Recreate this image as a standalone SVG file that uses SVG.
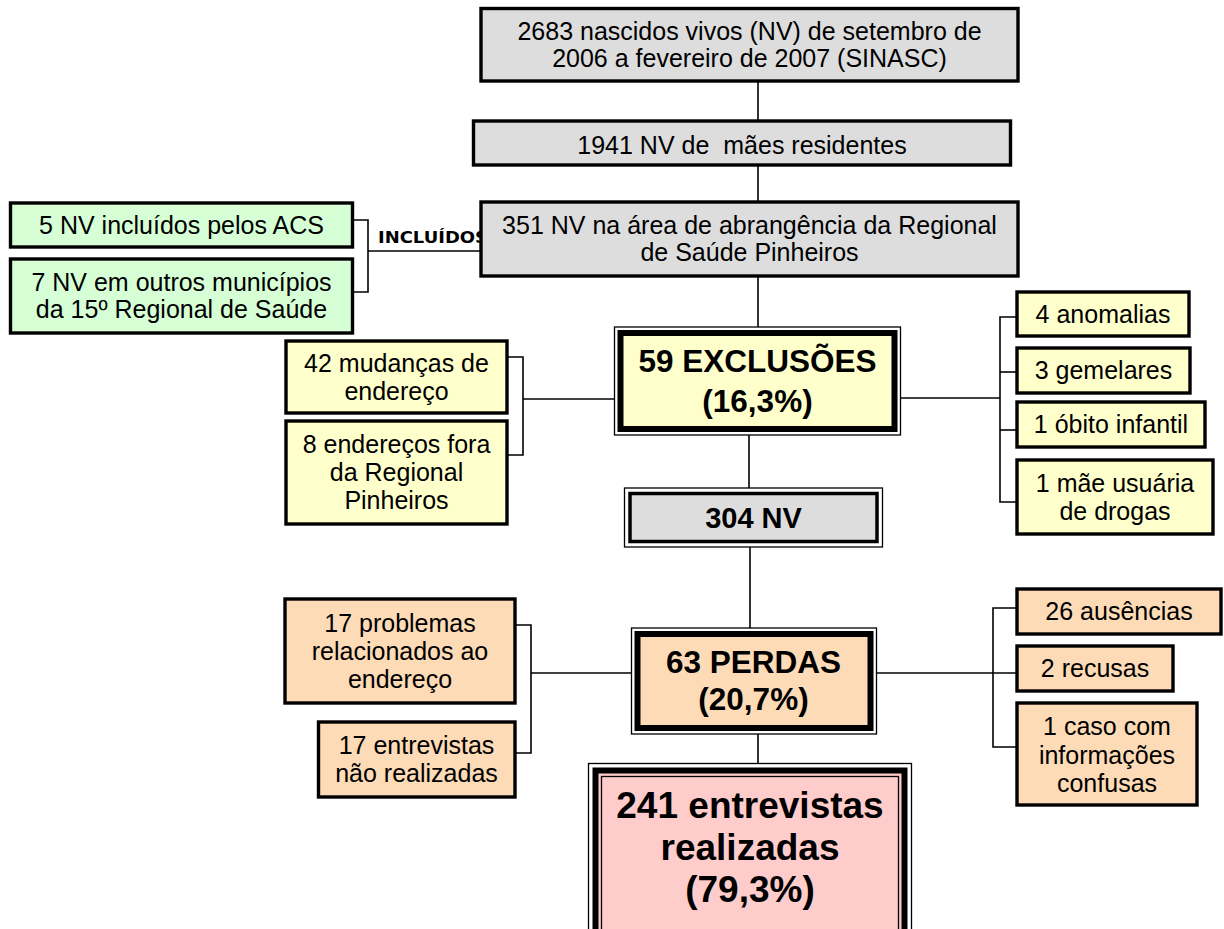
<svg xmlns="http://www.w3.org/2000/svg" width="1224" height="929" viewBox="0 0 1224 929">
<style>
text{font-family:"Liberation Sans",Arial,sans-serif;font-size:25px;fill:#000;text-anchor:middle;white-space:pre}
text.b{font-weight:bold;font-size:31.5px}
text.s{font-size:29px}
text.l{font-size:37px}
.box{stroke:#000;stroke-width:3.4}
.gray{fill:#DDDDDD}
.green{fill:#D6FFD6}
.yel{fill:#FFFFCC}
.peach{fill:#FDDBB6}
.pink{fill:#FFCCCC}
.thin{fill:#fff;stroke:#000;stroke-width:1.3}
.thick{stroke:#000;stroke-width:6}
.c line,.c polyline{stroke:#000;stroke-width:1.6;fill:none}
text.inc{font-family:"DejaVu Sans",sans-serif;font-weight:bold;font-size:15px;text-anchor:start}
</style>
<rect width="1224" height="929" fill="#fff"/>
<g class="c" id="connectors">
<line x1="758" y1="81" x2="758" y2="121"/>
<line x1="758" y1="165" x2="758" y2="202"/>
<line x1="758" y1="276" x2="758" y2="327"/>
<line x1="749" y1="435" x2="749" y2="488"/>
<line x1="750" y1="547" x2="750" y2="628"/>
<line x1="758" y1="734" x2="758" y2="763"/>
<polyline points="352,220 368,220 368,292 352,292"/>
<line x1="368" y1="251" x2="481" y2="251"/>
<polyline points="507,357 523,357 523,455 507,455"/>
<line x1="523" y1="399" x2="614" y2="399"/>
<polyline points="1017,317 1000,317 1000,502 1017,502"/>
<line x1="1000" y1="372" x2="1017" y2="372"/>
<line x1="1000" y1="430" x2="1017" y2="430"/>
<line x1="901" y1="398" x2="1000" y2="398"/>
<polyline points="515,625 531,625 531,753 515,753"/>
<line x1="531" y1="673" x2="631" y2="673"/>
<polyline points="1017,608 993,608 993,747 1017,747"/>
<line x1="877" y1="673" x2="1017" y2="673"/>
</g>
<text class="inc" x="378" y="243" textLength="110" lengthAdjust="spacingAndGlyphs">INCLUÍDOS</text>
<g id="n2683">
<rect class="box gray" x="481" y="8.5" width="537" height="72.5"/>
<text x="749.5" y="40">2683 nascidos vivos (NV) de setembro de</text>
<text x="749.5" y="67">2006 a fevereiro de 2007 (SINASC)</text>
</g>
<g id="n1941">
<rect class="box gray" x="473.5" y="121" width="537" height="44"/>
<text x="742" y="154">1941 NV de  mães residentes</text>
</g>
<g id="n351">
<rect class="box gray" x="481" y="202" width="537" height="74"/>
<text x="749.5" y="234">351 NV na área de abrangência da Regional</text>
<text x="749.5" y="261">de Saúde Pinheiros</text>
</g>
<g id="inc1">
<rect class="box green" x="10.5" y="203" width="342" height="44"/>
<text x="181.5" y="234">5 NV incluídos pelos ACS</text>
</g>
<g id="inc2">
<rect class="box green" x="10.5" y="259" width="342" height="74"/>
<text x="181.5" y="291">7 NV em outros municípios</text>
<text x="181.5" y="318">da 15º Regional de Saúde</text>
</g>
<g id="exclusoes">
<rect class="thin" x="614.5" y="327" width="286" height="108"/>
<rect class="thick yel" x="620.5" y="333" width="274" height="96"/>
<text class="b" x="757.5" y="372">59 EXCLUSÕES</text>
<text class="b" x="757.5" y="412">(16,3%)</text>
</g>
<g id="ex_mud">
<rect class="box yel" x="286" y="341" width="221" height="72"/>
<text x="396.5" y="372">42 mudanças de</text>
<text x="396.5" y="400">endereço</text>
</g>
<g id="ex_fora">
<rect class="box yel" x="286" y="421" width="221" height="103"/>
<text x="396.5" y="453">8 endereços fora</text>
<text x="396.5" y="481">da Regional</text>
<text x="396.5" y="509">Pinheiros</text>
</g>
<g id="ex_anom">
<rect class="box yel" x="1017" y="292" width="172" height="44"/>
<text x="1103" y="323">4 anomalias</text>
</g>
<g id="ex_gem">
<rect class="box yel" x="1017" y="348" width="173" height="45"/>
<text x="1103.5" y="379">3 gemelares</text>
</g>
<g id="ex_obito">
<rect class="box yel" x="1017" y="402" width="188" height="45"/>
<text x="1111" y="433">1 óbito infantil</text>
</g>
<g id="ex_drogas">
<rect class="box yel" x="1017" y="460" width="196" height="74"/>
<text x="1115" y="492">1 mãe usuária</text>
<text x="1115" y="520">de drogas</text>
</g>
<g id="n304">
<rect class="thin" x="624.5" y="488" width="258" height="59"/>
<rect class="gray" stroke="#000" stroke-width="3.5" x="630" y="493.5" width="247" height="48"/>
<text class="b s" x="753.5" y="528">304 NV</text>
</g>
<g id="perdas">
<rect class="thin" x="631.5" y="628" width="245" height="106"/>
<rect class="thick peach" x="637.5" y="634" width="233" height="94"/>
<text class="b" x="753.5" y="673">63 PERDAS</text>
<text class="b" x="753.5" y="710">(20,7%)</text>
</g>
<g id="p_end">
<rect class="box peach" x="285" y="599" width="230" height="104"/>
<text x="400" y="632">17 problemas</text>
<text x="400" y="660">relacionados ao</text>
<text x="400" y="688">endereço</text>
</g>
<g id="p_entr">
<rect class="box peach" x="318.5" y="722" width="196.5" height="75"/>
<text x="416.5" y="754">17 entrevistas</text>
<text x="416.5" y="782">não realizadas</text>
</g>
<g id="p_aus">
<rect class="box peach" x="1017" y="589" width="204" height="45"/>
<text x="1119" y="620">26 ausências</text>
</g>
<g id="p_rec">
<rect class="box peach" x="1017" y="646" width="156" height="45"/>
<text x="1095" y="677">2 recusas</text>
</g>
<g id="p_caso">
<rect class="box peach" x="1017" y="703" width="180" height="102"/>
<text x="1107" y="735">1 caso com</text>
<text x="1107" y="764">informações</text>
<text x="1107" y="792">confusas</text>
</g>
<g id="realizadas">
<rect class="thin" x="588.5" y="763.5" width="323" height="200"/>
<rect class="thick pink" x="595.5" y="770.5" width="309" height="186"/>
<rect fill="none" stroke="#000" stroke-width="1.3" x="601.5" y="776.5" width="297" height="174"/>
<text class="b l" x="750" y="818">241 entrevistas</text>
<text class="b l" x="750" y="860">realizadas</text>
<text class="b l" x="750" y="902">(79,3%)</text>
</g>
</svg>
